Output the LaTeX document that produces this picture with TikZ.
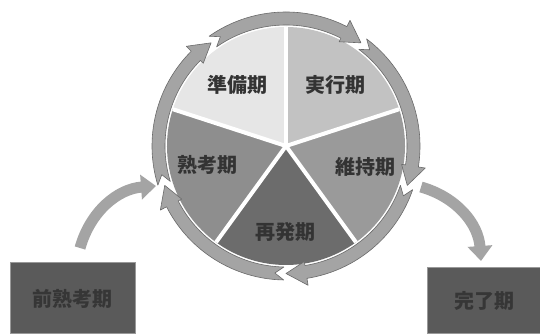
\documentclass[tikz,border=0pt]{standalone}
\usepackage{fontspec}
\newfontfamily\jp{Noto Sans CJK JP}
\usetikzlibrary{arrows.meta}
\definecolor{sA}{HTML}{E6E6E6}
\definecolor{sB}{HTML}{C2C2C2}
\definecolor{sC}{HTML}{9A9A9A}
\definecolor{sD}{HTML}{6C6C6C}
\definecolor{sE}{HTML}{8E8E8E}
\definecolor{ringc}{HTML}{A4A4A4}
\definecolor{ringd}{HTML}{6A6A6A}
\definecolor{boxc}{HTML}{5A5A5A}
\definecolor{boxt}{HTML}{363636}
\begin{document}
\begin{tikzpicture}[x=1pt,y=1pt,
  lbl/.style={font=\jp\bfseries\fontsize{20}{22}\selectfont, text=black!80, inner sep=0pt},
  phasebox/.style={fill=boxc, draw=black!40, line width=1pt, minimum width=#1, inner sep=0pt, font=\jp\bfseries\fontsize{20}{22}\selectfont, text=boxt},
  extarrow/.style={line width=11pt, draw=ringc, -{Triangle[width=24pt,length=15pt,fill=ringc]}},
  ringseg/.style={fill=ringc, draw=ringd, line width=0.6pt, line join=round},
  sep/.style={draw=white, line width=4pt}]
\useasboundingbox (0,0) rectangle (540,334);
\fill[white] (0,0) rectangle (540,334);
\begin{scope}[shift={(286,188)}]
  % pie slices
  \fill[sA] (0,0) -- (90:119) arc[start angle=90,end angle=162,radius=119] -- cycle;
  \fill[sB] (0,0) -- (18:119) arc[start angle=18,end angle=90,radius=119] -- cycle;
  \fill[sC] (0,0) -- (-54:119) arc[start angle=-54,end angle=18,radius=119] -- cycle;
  \fill[sD] (0,0) -- (234:119) arc[start angle=234,end angle=306,radius=119] -- cycle;
  \fill[sE] (0,0) -- (162:119) arc[start angle=162,end angle=234,radius=119] -- cycle;
  \foreach \a in {90,162,234,306,18} \draw[sep] (0,0) -- (\a:119);
  % ring segments with arrowheads
  \foreach \s/\t in {125/54, 53/-18, -19/-90, -91/-162, -163/-234} {
    \pgfmathsetmacro{\b}{\t+9}
    \pgfmathsetmacro{\n}{\s-4}
    \fill[ringseg] (\s:134) arc[start angle=\s,end angle=\b,radius=134] -- (\b:141) -- (\t:127.5) -- (\b:117) -- (\b:121) arc[start angle=\b,end angle=\s,radius=121] -- (\n:127.5) -- cycle;
  }
\end{scope}
% labels
\node[lbl] (jb) at (237,249) {準備期};
\node[lbl] (jk) at (335,249) {実行期};
\node[lbl] (jj) at (365,167) {維持期};
\node[lbl] (sh) at (285,102) {再発期};
\node[lbl] (jt) at (207,169) {熟考期};
% boxes
\node[phasebox=125pt, minimum height=71pt] (pre) at (72.5,35.5) {前熟考期};
\node[phasebox=114pt, minimum height=66pt] (end) at (484,33) {完了期};
% external arrows
\coordinate (lt) at (80,86);
\coordinate (lh) at (156,148);
\coordinate (rt) at (421,147);
\coordinate (rh) at (481,73);
\draw[extarrow] (lt) to[bend left=35] (lh);
\draw[extarrow] (rt) to[bend left=35] (rh);
\end{tikzpicture}
\end{document}
